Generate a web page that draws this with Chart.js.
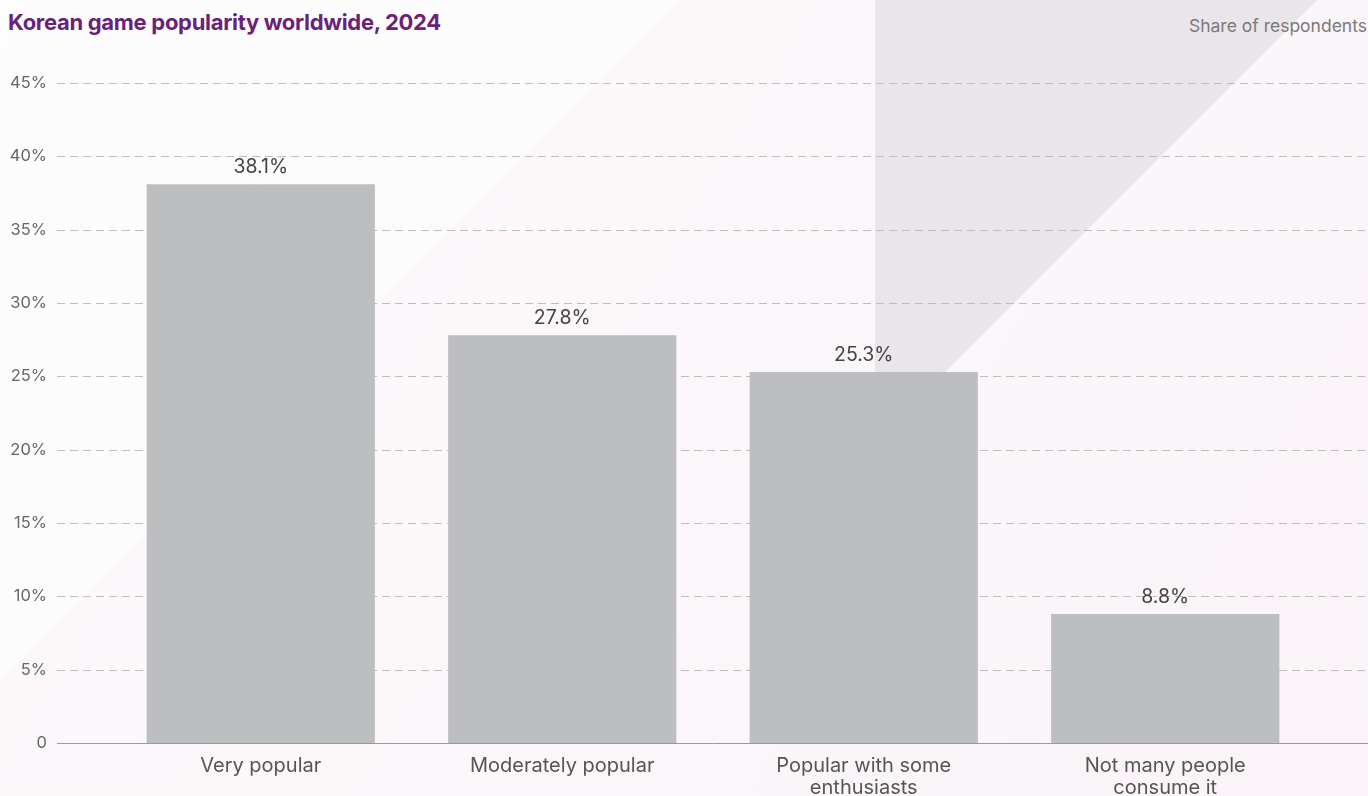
<!DOCTYPE html>
<html>
<head>
<meta charset="utf-8">
<script src="https://cdn.jsdelivr.net/npm/chart.js@4.4.1/dist/chart.umd.min.js"></script>
<style>
  html, body { margin: 0; padding: 0; }
  body {
    width: 1368px; height: 796px; overflow: hidden; position: relative;
    font-family: Inter, "Noto Sans", sans-serif;
    background: linear-gradient(115deg, #fdfdfd 0%, #fcfbfc 50%, #f9f1f7 100%);
  }
  .shape { position: absolute; left: 0; top: 0; width: 1368px; height: 796px; }
  .shapeA {
    background: linear-gradient(120deg, #fcf9fb 0%, #faf4f8 100%);
    clip-path: polygon(680px 0, 1368px 0, 1368px 796px, -116px 796px);
  }
  .shapeB {
    background: linear-gradient(135deg, #ebe8eb 0%, #e8e3e9 100%);
    clip-path: polygon(875px 0, 1317px 0, 875px 442px);
  }
  .title {
    position: absolute; left: 8px; top: 9px;
    font-size: 22px; font-weight: 700; color: #6a2278; letter-spacing: -0.3px;
  }
  .sub {
    position: absolute; right: 1px; top: 15px;
    font-size: 17.5px; color: #7a7a7a;
  }
  #myChart { position: absolute; left: 0; top: 0; }
</style>
</head>
<body>
<div class="shape shapeA"></div>
<div class="shape shapeB"></div>
<div class="title">Korean game popularity worldwide, 2024</div>
<div class="sub">Share of respondents</div>
<canvas id="myChart" width="1368" height="796"></canvas>
<script>
const categories = [
  "Very popular",
  "Moderately popular",
  ["Popular with some", "enthusiasts"],
  ["Not many people", "consume it"],
];
const shares = [38.1, 27.8, 25.3, 8.8];
const yTicks = [0, 5, 10, 15, 20, 25, 30, 35, 40, 45];

// dashed grid + zero line across the full width, values above bars
const decor = {
  id: "decor",
  beforeDatasetsDraw(chart) {
    const ctx = chart.ctx;
    const y = chart.scales.y;
    ctx.save();
    yTicks.forEach((t) => {
      const py = Math.round(y.getPixelForValue(t)) + 0.5;
      ctx.beginPath();
      if (t === 0) {
        ctx.setLineDash([]);
        ctx.strokeStyle = "#9a9a9a";
      } else {
        ctx.setLineDash([8, 5]);
        ctx.strokeStyle = "#bdbdbd";
      }
      ctx.lineWidth = 1;
      ctx.moveTo(57, py);
      ctx.lineTo(1368, py);
      ctx.stroke();
    });
    ctx.restore();
  },
  afterDatasetsDraw(chart) {
    const ctx = chart.ctx;
    const meta = chart.getDatasetMeta(0);
    ctx.save();
    ctx.font = "19.5px Inter";
    ctx.fillStyle = "#444444";
    ctx.textAlign = "center";
    ctx.textBaseline = "bottom";
    meta.data.forEach((bar, i) => {
      ctx.fillText(shares[i].toFixed(1) + "%", bar.x, bar.y - 7);
    });
    ctx.restore();
  },
};

const ctx = document.getElementById("myChart");
new Chart(ctx, {
  type: "bar",
  data: {
    labels: categories,
    datasets: [
      {
        data: shares,
        backgroundColor: "#bdbec0",
        categoryPercentage: 1,
        barPercentage: 0.757,
      },
    ],
  },
  options: {
    responsive: false,
    animation: false,
    layout: { padding: { top: 83, right: 52, bottom: 0, left: 0 } },
    plugins: {
      legend: { display: false },
      tooltip: { enabled: false },
    },
    scales: {
      x: {
        grid: { display: false, drawTicks: false },
        border: { display: false },
        ticks: {
          font: { family: "Inter", size: 20, lineHeight: 1.1 },
          color: "#555555",
          padding: 12,
          maxRotation: 0,
          autoSkip: false,
        },
        afterFit(scale) {
          scale.height = 53;
        },
      },
      y: {
        min: 0,
        max: 45,
        grid: { display: false, drawTicks: false },
        border: { display: false },
        afterBuildTicks(scale) {
          scale.ticks = yTicks.map((v) => ({ value: v }));
        },
        afterFit(scale) {
          scale.width = 110;
          scale.paddingTop = 10;
          scale.paddingBottom = 10;
        },
        ticks: {
          padding: 63,
          font: { family: "Inter", size: 16.5 },
          color: "#666666",
          callback: (v) => (v === 0 ? "0" : v + "%"),
        },
      },
    },
  },
  plugins: [decor],
});
</script>
</body>
</html>
